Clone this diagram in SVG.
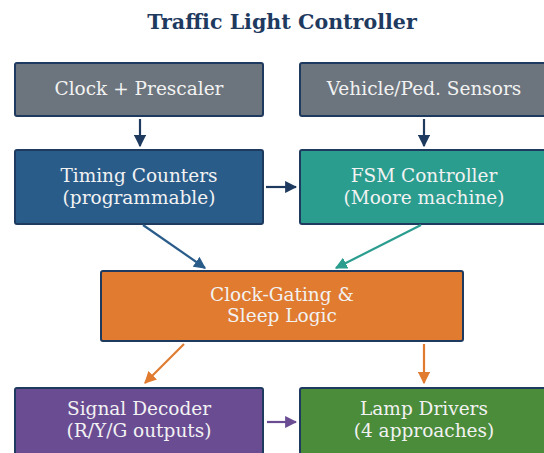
<svg xmlns="http://www.w3.org/2000/svg" width="544" height="453" viewBox="0 0 544 453">
<style>
.box{stroke:#1f3a5f;stroke-width:2}
.t{font-family:"DejaVu Serif",serif;font-size:18.5px;fill:#f2f2f2;text-anchor:middle}
.title{font-family:"DejaVu Serif",serif;font-size:20.6px;font-weight:bold;fill:#1f3a5f;text-anchor:middle}
.c{fill:none;stroke-width:2.2}
</style>
<defs>
<marker id="aN" viewBox="0 0 10 10" refX="9" refY="5" markerWidth="5.5" markerHeight="5.5" orient="auto"><path d="M0,0L10,5L0,10z" fill="#1f3a5f"/></marker>
<marker id="aB" viewBox="0 0 10 10" refX="9" refY="5" markerWidth="5.5" markerHeight="5.5" orient="auto"><path d="M0,0L10,5L0,10z" fill="#2a5c8a"/></marker>
<marker id="aT" viewBox="0 0 10 10" refX="9" refY="5" markerWidth="5.5" markerHeight="5.5" orient="auto"><path d="M0,0L10,5L0,10z" fill="#2a9d8f"/></marker>
<marker id="aO" viewBox="0 0 10 10" refX="9" refY="5" markerWidth="5.5" markerHeight="5.5" orient="auto"><path d="M0,0L10,5L0,10z" fill="#e07b30"/></marker>
<marker id="aP" viewBox="0 0 10 10" refX="9" refY="5" markerWidth="5.5" markerHeight="5.5" orient="auto"><path d="M0,0L10,5L0,10z" fill="#6a4c93"/></marker>
</defs>
<rect width="544" height="453" fill="#ffffff"/>
<text class="title" x="282" y="29">Traffic Light Controller</text>
<g id="clock"><rect class="box" x="15" y="63" width="248" height="53" rx="2" fill="#6c757d"/><text class="t" x="139" y="95">Clock + Prescaler</text></g>
<g id="sensors"><rect class="box" x="300" y="63" width="248" height="53" rx="2" fill="#6c757d"/><text class="t" x="424" y="95">Vehicle/Ped. Sensors</text></g>
<g id="timing"><rect class="box" x="15" y="150" width="248" height="74" rx="2" fill="#2a5c8a"/><text class="t" x="139" y="182">Timing Counters</text><text class="t" x="139" y="204">(programmable)</text></g>
<g id="fsm"><rect class="box" x="300" y="150" width="248" height="74" rx="2" fill="#2a9d8f"/><text class="t" x="424" y="182">FSM Controller</text><text class="t" x="424" y="204">(Moore machine)</text></g>
<g id="gating"><rect class="box" x="101" y="271" width="362" height="70" rx="2" fill="#e07b30"/><text class="t" x="282" y="301">Clock-Gating &amp;</text><text class="t" x="282" y="322">Sleep Logic</text></g>
<g id="decoder"><rect class="box" x="15" y="388" width="248" height="74" rx="2" fill="#6a4c93"/><text class="t" x="139" y="415">Signal Decoder</text><text class="t" x="139" y="437">(R/Y/G outputs)</text></g>
<g id="lamps"><rect class="box" x="300" y="388" width="248" height="74" rx="2" fill="#4a8c3a"/><text class="t" x="424" y="415">Lamp Drivers</text><text class="t" x="424" y="437">(4 approaches)</text></g>
<g id="connectors">
<line class="c" x1="140" y1="119" x2="140" y2="146" stroke="#1f3a5f" marker-end="url(#aN)"/>
<line class="c" x1="424" y1="119" x2="424" y2="146" stroke="#1f3a5f" marker-end="url(#aN)"/>
<line class="c" x1="266" y1="187" x2="296" y2="187" stroke="#1f3a5f" marker-end="url(#aN)"/>
<line class="c" x1="143" y1="225" x2="205" y2="268" stroke="#2a5c8a" marker-end="url(#aB)"/>
<line class="c" x1="421" y1="225" x2="336" y2="268" stroke="#2a9d8f" marker-end="url(#aT)"/>
<line class="c" x1="184" y1="344" x2="145" y2="383" stroke="#e07b30" marker-end="url(#aO)"/>
<line class="c" x1="424" y1="344" x2="424" y2="383" stroke="#e07b30" marker-end="url(#aO)"/>
<line class="c" x1="267" y1="422" x2="296" y2="422" stroke="#6a4c93" marker-end="url(#aP)"/>
</g>
</svg>
